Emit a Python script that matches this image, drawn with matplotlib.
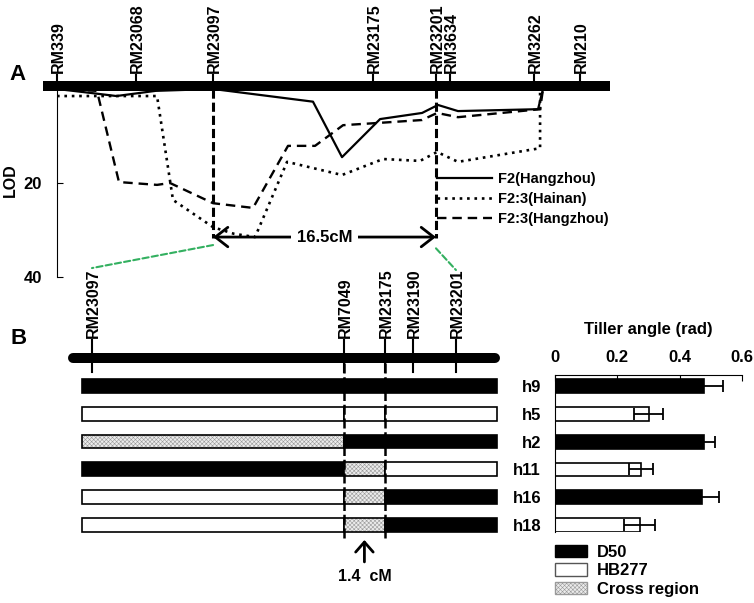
import numpy as np
import matplotlib.pyplot as plt
from matplotlib.patches import Patch, ConnectionPatch

plt.rcParams['font.family'] = ['Liberation Sans', 'DejaVu Sans']
plt.rcParams['font.weight'] = 'bold'
plt.rcParams['hatch.linewidth'] = 0.4

# panel A: marker map (cM) and LOD profiles
markers_a = ['RM339', 'RM23068', 'RM23097', 'RM23175', 'RM23201', 'RM3634', 'RM3262', 'RM210']
markers_a_cm = [0.0, 5.85, 11.56, 23.41, 28.07, 29.11, 35.33, 38.74]
chrom_a = [-1.04, 40.96]

f2_hz_cm = [0, 2.96, 4.4, 7.3, 11.56, 18.96, 21.11, 23.93, 27.04, 28.22, 29.70, 35.63, 36.0]
f2_hz_lod = [0, 1.0, 1.5, 0.4, 0.0, 2.7, 14.5, 6.4, 5.1, 3.4, 4.7, 4.3, 0]

f23_hn_cm = [0, 7.41, 8.59, 11.56, 13.1, 14.67, 17.04, 21.11, 24.15, 26.89, 28.15, 29.70, 35.78, 35.78]
f23_hn_lod = [1.5, 1.5, 23.6, 29.4, 30.8, 31.5, 15.5, 18.3, 14.9, 15.3, 13.4, 15.5, 12.6, 0.2]

f23_hz_cm = [0, 2.96, 4.59, 7.41, 8.37, 11.56, 14.52, 17.11, 19.11, 21.19, 23.93, 27.04, 28.15, 29.70, 35.78, 36.0]
f23_hz_lod = [0, 0.4, 19.8, 20.4, 20.0, 24.3, 25.3, 12.1, 12.1, 7.7, 7.2, 6.6, 5.1, 6.0, 4.3, 0]

series_names = ['F2(Hangzhou)', 'F2:3(Hainan)', 'F2:3(Hangzhou)']
interval_label = '16.5cM'

# panel B: fine map and recombinant haplotypes
markers_b = ['RM23097', 'RM7049', 'RM23175', 'RM23190', 'RM23201']
markers_b_pos = [0.0, 11.42, 13.28, 14.55, 16.5]
chrom_b = [-0.86, 18.27]
hap_span = [-0.45, 18.36]
haplotypes = ['h9', 'h5', 'h2', 'h11', 'h16', 'h18']
genotypes = ['DDD', 'HHH', 'XDD', 'DXH', 'HXD', 'HXD']
region_label = '1.4  cM'

tiller_mean = [0.477, 0.300, 0.478, 0.275, 0.471, 0.272]
tiller_err = [0.062, 0.048, 0.035, 0.039, 0.054, 0.050]
tiller_type = ['D', 'H', 'D', 'H', 'D', 'H']
legend_names = ['D50', 'HB277', 'Cross region']

W, H = 754, 603
fig = plt.figure(figsize=(W / 100, H / 100), dpi=100)

HATCH = 'xxxxxxxx'
HATCH_FC = '#ececec'
HATCH_EC = '#9a9a9a'


def px_axes(left, top, right, bottom):
    ax = fig.add_axes([left / W, 1 - bottom / H, (right - left) / W, (bottom - top) / H])
    ax.patch.set_visible(False)
    return ax


# ---------------- panel A ----------------
axA = px_axes(30, 55, 620, 285)
axA.set_xlim(-2.0, 41.7)
axA.set_ylim(41.70, -7.23)
for s in ['top', 'right', 'bottom']:
    axA.spines[s].set_visible(False)
axA.spines['left'].set_position(('data', 0))
axA.spines['left'].set_bounds(0, 40)
axA.set_xticks([])
axA.set_yticks([20, 40])
axA.tick_params(axis='y', direction='in', length=4, pad=11, labelsize=12)

axA.plot(chrom_a, [-0.53, -0.53], color='black', lw=7.2, solid_capstyle='butt', zorder=4)
for name, x in zip(markers_a, markers_a_cm):
    axA.plot([x, x], [-3.0, -0.5], color='black', lw=1.5, zorder=4)
    axA.text(x + 0.12, -3.5, name, rotation=90, ha='center', va='bottom', fontsize=11.5)

l1, = axA.plot(f2_hz_cm, f2_hz_lod, color='black', lw=1.6, zorder=2)
l2, = axA.plot(f23_hn_cm, f23_hn_lod, color='black', lw=1.9, ls=(0, (1, 1.8)), zorder=2)
l3, = axA.plot(f23_hz_cm, f23_hz_lod, color='black', lw=1.7, ls=(0, (4, 2.5)), zorder=2)

left_m, right_m = markers_a_cm[2], markers_a_cm[4]
for x in (left_m, right_m):
    axA.plot([x, x], [0, 31.8], color='black', lw=2.2, ls=(0, (3, 1.3)), zorder=3)

axA.annotate('', xy=(left_m, 31.5), xytext=(right_m, 31.5),
             arrowprops=dict(arrowstyle='<->,head_length=0.45,head_width=0.35',
                             lw=2, color='black', shrinkA=0, shrinkB=0, mutation_scale=20))
axA.text((left_m + right_m) / 2, 31.5, interval_label, ha='center', va='center', fontsize=12,
         bbox=dict(boxstyle='square,pad=0.35', fc='white', ec='none'), zorder=5)

axA.legend([l1, l2, l3], series_names, loc='upper left', bbox_to_anchor=(28.15, 17.7),
           bbox_transform=axA.transData, frameon=False, fontsize=10.5, handlelength=3.8,
           handletextpad=0.35, labelspacing=0.4, borderpad=0, borderaxespad=0)

fig.text(18 / W, 1 - 74 / H, 'A', fontsize=16, ha='center', va='center')
fig.text(10 / W, 1 - 180 / H, 'LOD', fontsize=11.5, rotation=90, ha='center', va='center')

# ---------------- panel B haplotypes ----------------
axB = px_axes(60, 255, 510, 600)
axB.set_xlim(-1.45, 18.95)
axB.set_ylim(7.70, -4.71)
axB.axis('off')

axB.plot(chrom_b, [-1.0, -1.0], color='black', lw=7.2, solid_capstyle='round', zorder=4)
for name, x in zip(markers_b, markers_b_pos):
    axB.plot([x, x], [-1.65, -0.5], color='black', lw=1.5, zorder=4)
    axB.text(x + 0.08, -1.72, name, rotation=90, ha='center', va='bottom', fontsize=11.5)

edges = [hap_span[0], markers_b_pos[1], markers_b_pos[2], hap_span[1]]
for row, g in enumerate(genotypes):
    for k, code in enumerate(g):
        x0, x1 = edges[k], edges[k + 1]
        if code == 'D':
            axB.barh(row, x1 - x0, left=x0, height=0.5, color='black', edgecolor='black', lw=1.2)
        elif code == 'H':
            axB.barh(row, x1 - x0, left=x0, height=0.5, color='white', edgecolor='black', lw=1.2)
        else:
            axB.barh(row, x1 - x0, left=x0, height=0.5, color=HATCH_FC, edgecolor=HATCH_EC,
                     hatch=HATCH, lw=0)
            axB.barh(row, x1 - x0, left=x0, height=0.5, fill=False, edgecolor='black', lw=1.2)

for x in markers_b_pos[1:3]:
    axB.plot([x, x], [-0.83, 5.54], color='black', lw=1.8, ls=(0, (4, 1.5)), zorder=5)

mid = (markers_b_pos[1] + markers_b_pos[2]) / 2
axB.annotate('', xy=(mid, 5.54), xytext=(mid, 6.33),
             arrowprops=dict(arrowstyle='->,head_length=0.4,head_width=0.35',
                             lw=2, color='black', shrinkA=0, shrinkB=0, mutation_scale=18))
axB.text(mid, 6.85, region_label, ha='center', va='center', fontsize=11.5)

fig.text(19 / W, 1 - 338 / H, 'B', fontsize=16, ha='center', va='center')

# green connectors from panel A interval to panel B map
for xa, ya, xb, yb in [(left_m, 33.2, markers_b_pos[0], -4.24),
                       (right_m, 33.9, markers_b_pos[-1], -4.17)]:
    con = ConnectionPatch(xyA=(xa, ya), coordsA=axA.transData, xyB=(xb, yb),
                          coordsB=axB.transData, color='#33b060', lw=1.5, ls=(0, (3, 1.5)))
    fig.add_artist(con)

# ---------------- tiller angle bars ----------------
axT = px_axes(555, 375, 742, 532)
axT.set_xlim(0, 0.6)
axT.set_ylim(5.25, -0.40)
colors = ['black' if t == 'D' else 'white' for t in tiller_type]
axT.barh(range(len(haplotypes)), tiller_mean, height=0.5, color=colors, edgecolor='black', lw=1.2)
axT.errorbar(tiller_mean, range(len(haplotypes)), xerr=tiller_err, fmt='none', ecolor='black',
             elinewidth=1.3, capsize=4.3, capthick=1.3)
axT.spines['right'].set_visible(False)
axT.spines['bottom'].set_visible(False)
axT.xaxis.tick_top()
axT.set_xticks([0, 0.2, 0.4, 0.6])
axT.set_xticklabels(['0', '0.2', '0.4', '0.6'])
axT.tick_params(axis='x', direction='in', length=4, pad=7, labelsize=12)
axT.set_yticks(range(len(haplotypes)))
axT.set_yticklabels(haplotypes)
axT.tick_params(axis='y', length=0, pad=10, labelsize=12)
axT.text(0.5, 1.287, 'Tiller angle (rad)', transform=axT.transAxes, ha='center', va='center',
         fontsize=12)

handles = [Patch(facecolor='black', edgecolor='black'),
           Patch(facecolor='white', edgecolor='#555555'),
           Patch(facecolor=HATCH_FC, edgecolor=HATCH_EC, hatch=HATCH)]
axT.legend(handles, legend_names, loc='upper left', bbox_to_anchor=(0, -0.08), frameon=False,
           fontsize=12, handlelength=1.92, handleheight=0.75, handletextpad=0.6,
           labelspacing=0.22, borderpad=0, borderaxespad=0)

fig.savefig('out.png', dpi=100)
